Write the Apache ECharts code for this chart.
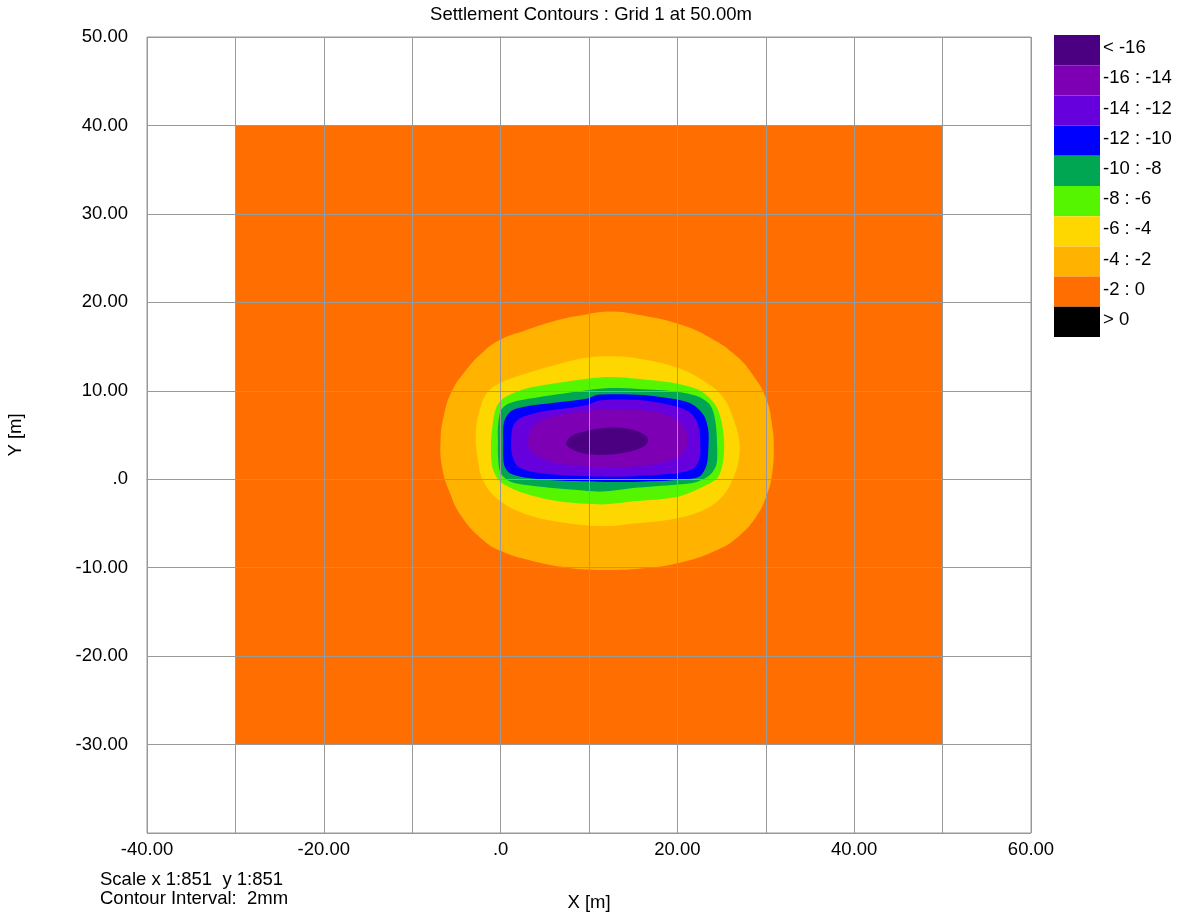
<!DOCTYPE html>
<html>
<head>
<meta charset="utf-8">
<script src="https://cdn.jsdelivr.net/npm/echarts@6/dist/echarts.min.js"></script>
<style>html,body{margin:0;padding:0;background:#fff}#chart{width:1182px;height:912px}</style>
</head>
<body>
<div id="chart"></div>
<script>
// ---- data ----
const titleText = 'Settlement Contours : Grid 1 at 50.00m';
const legendLabels = ['< -16', '-16 : -14', '-14 : -12', '-12 : -10', '-10 : -8', '-8 : -6', '-6 : -4', '-4 : -2', '-2 : 0', '> 0'];
const legendColors = ['#4b0082', '#7d00b4', '#6600dd', '#0000ff', '#00a652', '#55f500', '#ffd700', '#ffb300', '#ff6e00', '#000000'];

// grid region (x min..max, y min..max)
const baseRegion = [[-30, -30], [50, -30], [50, 40], [-30, 40]];

const contourMinus2 = [[-6.8,4.3],[-6.4,7.3],[-5.5,10.0],[-4.1,12.1],[-2.2,14.2],[0,15.8],[2.7,16.8],[6.5,18.0],[9.5,18.6],[12.5,18.95],[15.5,18.6],[20,17.6],[23.7,16.0],[26.7,13.9],[28.6,11.7],[30,9.2],[30.7,6.2],[30.9,3.5],[30.7,0.5],[30.1,-1.8],[29.0,-4.1],[27.1,-6.3],[24.5,-8.0],[20,-9.5],[15.8,-10.1],[11.5,-10.25],[7.6,-10.0],[3.4,-9.2],[0,-8.1],[-2.2,-6.7],[-4.5,-4.1],[-5.8,-1.4],[-6.6,1.25]];
const contourMinus4 = [[-2.8,5.1],[-2.4,7.7],[-1.5,9.8],[0,10.9],[2.7,11.9],[6.5,13.0],[9.5,13.7],[12.5,13.9],[15.5,13.65],[20,12.6],[23.3,10.9],[25.2,9.2],[26.3,6.9],[27.0,4.3],[26.9,2.0],[26.3,0.1],[25.2,-1.8],[23.3,-3.3],[20,-4.4],[15,-5.0],[11.5,-5.3],[6.5,-4.8],[2.7,-3.9],[0,-2.5],[-1.9,-0.3],[-2.6,2.4]];
const contourMinus6 = [[-1.1,3.5],[-0.9,6.2],[-0.5,8.1],[0.4,9.2],[2.7,10.2],[6.5,10.9],[10,11.4],[12.5,11.55],[15.5,11.35],[20,10.8],[22.6,10],[24.3,8.4],[25.0,6.5],[25.3,3.9],[25.1,1.6],[24.5,0.1],[22.6,-1.0],[20,-2.0],[15,-2.5],[11.5,-2.85],[6.5,-2.5],[2.7,-1.6],[0,-0.3],[-0.9,1.25]];
const contourMinus8 = [[-0.3,4.3],[-0.3,5.8],[0,7.7],[0.8,8.5],[2.7,9.0],[6.5,9.6],[10,10.1],[12.5,10.3],[15.5,10.2],[20,9.9],[22.2,9.4],[23.7,8.4],[24.3,6.5],[24.5,3.5],[24.4,1.6],[23.7,0.5],[22.2,-0.3],[20,-0.6],[15,-1.0],[11.5,-1.4],[8.4,-1.2],[4.6,-0.85],[1.2,-0.3],[0,0.7],[-0.3,2.8]];
const contourMinus10 = [[0.3,4.3],[0.4,6.5],[1.2,7.7],[2.7,8.2],[6.5,8.7],[9.7,9.1],[11,9.55],[14,9.6],[17,9.45],[20,9.0],[21.8,8.4],[23.0,7.2],[23.5,5.5],[23.5,3.5],[23.3,1.6],[22.5,0.3],[20,-0.1],[15,-0.3],[11.8,-0.3],[6.5,-0.15],[2.7,0.2],[1.0,0.7],[0.4,1.6]];
const contourMinus12 = [[1.2,4.3],[1.4,6.0],[2.2,6.9],[4,7.5],[6.5,7.9],[9.8,8.4],[11.2,8.9],[14,9.0],[17,8.8],[20,8.2],[21.6,7.4],[22.4,6.0],[22.6,4.0],[22.5,2.3],[21.8,1.2],[20,0.7],[15,0.35],[11,0.3],[6.5,0.5],[3.5,0.85],[1.9,1.5],[1.3,2.8]];
const contourMinus14 = [[3.1,4.3],[3.5,5.8],[4.5,6.6],[6,7.1],[8,7.5],[10,7.75],[11.5,7.95],[13.5,7.9],[16.9,7.7],[19,7.2],[20.3,6.4],[21.1,5.0],[21.0,3.6],[20.3,2.6],[18,1.8],[15,1.4],[12,1.3],[9,1.5],[6,1.9],[4.2,2.6],[3.3,3.4]];
const contourMinus16 = [[7.4,4.1],[8.0,4.9],[9.5,5.4],[11,5.7],[12.7,5.85],[14.5,5.7],[16.0,5.2],[16.7,4.5],[16.2,3.7],[14.5,3.1],[12.5,2.8],[10.1,2.8],[8.5,3.2],[7.6,3.7]];

const footerLines = ['Scale x 1:851  y 1:851', 'Contour Interval:  2mm'];

// ---- build ----
const bands = [
  { pts: baseRegion, color: legendColors[8], smooth: 0 },
  { pts: contourMinus2, color: legendColors[7], smooth: 0.45 },
  { pts: contourMinus4, color: legendColors[6], smooth: 0.4 },
  { pts: contourMinus6, color: legendColors[5], smooth: 0.3 },
  { pts: contourMinus8, color: legendColors[4], smooth: 0.3 },
  { pts: contourMinus10, color: legendColors[3], smooth: 0.3 },
  { pts: contourMinus12, color: legendColors[2], smooth: 0.3 },
  { pts: contourMinus14, color: legendColors[1], smooth: 0.3 },
  { pts: contourMinus16, color: legendColors[0], smooth: 0.35 }
];

const FONT = "'Liberation Sans', Arial, sans-serif";
const FS = 18.5;
const GL = 147, GT = 37, GW = 884, GH = 796;

const chart = echarts.init(document.getElementById('chart'), null, { renderer: 'canvas' });

const legendGraphics = [];
const boxH = 30.2, boxTop = 35, boxX = 1054, boxW = 46;
legendLabels.forEach((lab, i) => {
  legendGraphics.push({
    type: 'rect', left: boxX, top: boxTop + i * boxH,
    shape: { width: boxW, height: boxH },
    style: { fill: legendColors[i] }
  });
  legendGraphics.push({
    type: 'text', x: 1103, y: boxTop + i * boxH + boxH / 2 - 2,
    style: { text: lab, fill: '#000', font: FS + 'px ' + FONT, textVerticalAlign: 'middle', textAlign: 'left' }
  });
});
footerLines.forEach((t, i) => {
  legendGraphics.push({
    type: 'text', x: 100, y: 880 + i * 19,
    style: { text: t, fill: '#000', font: FS + 'px ' + FONT, textVerticalAlign: 'middle', textAlign: 'left' }
  });
});

const fmt2 = v => (v === 0 ? '.0' : v.toFixed(2));

chart.setOption({
  animation: false,
  backgroundColor: '#fff',
  title: {
    text: titleText, left: 'center', top: 0,
    textStyle: { fontFamily: FONT, fontSize: FS, fontWeight: 'normal', color: '#000' }
  },
  grid: { left: GL, top: GT, width: GW, height: GH, show: true, borderColor: '#999', borderWidth: 1, backgroundColor: 'transparent', containLabel: false, outerBoundsMode: 'none' },
  xAxis: {
    type: 'value', min: -40, max: 60, interval: 10, z: 5,
    name: 'X [m]', nameLocation: 'middle', nameGap: 60,
    nameTextStyle: { fontFamily: FONT, fontSize: FS, color: '#000' },
    axisLine: { show: true, lineStyle: { color: '#999' } },
    axisTick: { show: false },
    splitLine: { show: true, lineStyle: { color: '#999', width: 1 } },
    axisLabel: {
      margin: 7, fontFamily: FONT, fontSize: FS, color: '#000',
      formatter: v => (Math.round(v / 10) % 2 !== 0 ? '' : fmt2(v))
    }
  },
  yAxis: {
    type: 'value', min: -40, max: 50, interval: 10, z: 5,
    name: 'Y [m]', nameLocation: 'middle', nameGap: 122, nameRotate: 90,
    nameTextStyle: { fontFamily: FONT, fontSize: FS, color: '#000' },
    axisLine: { show: true, lineStyle: { color: '#999' } },
    axisTick: { show: false },
    splitLine: { show: true, lineStyle: { color: '#999', width: 1 } },
    axisLabel: {
      margin: 19, fontFamily: FONT, fontSize: FS, color: '#000',
      formatter: v => (v === -40 ? '' : fmt2(v))
    }
  },
  series: [{
    type: 'custom',
    z: 2,
    data: bands.map((b, i) => [i]),
    encode: { x: -1, y: -1 },
    renderItem: function (params, api) {
      const b = bands[params.dataIndex];
      const pts = b.pts.map(p => api.coord(p));
      return {
        type: 'polygon',
        shape: { points: pts, smooth: b.smooth },
        style: { fill: b.color, stroke: null }
      };
    }
  }],
  graphic: legendGraphics
});
</script>
</body>
</html>
